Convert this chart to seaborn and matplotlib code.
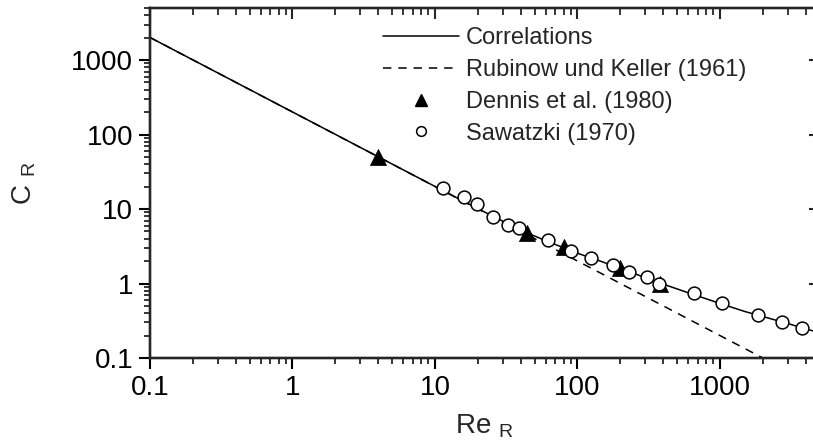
import matplotlib
matplotlib.use('Agg')
import matplotlib.pyplot as plt
import seaborn as sns
import pandas as pd
from matplotlib.lines import Line2D
from matplotlib.ticker import LogLocator, NullFormatter, FixedLocator, FixedFormatter

# ---------------- data ----------------
corr_re = [0.1, 1, 10, 20, 40, 60, 100, 150, 200, 300, 400, 600, 1000, 1500, 2000, 3000, 4000, 5000]
corr_cr = [2010, 201, 20.1, 10.1, 5.2, 3.75, 2.55, 1.95, 1.58, 1.2, 0.98, 0.75, 0.54, 0.42, 0.36, 0.29, 0.245, 0.22]

rk_re = [0.1, 2000]
rk_cr = [2010, 0.1]

dennis_re = [4.0, 44, 80, 200, 380]
dennis_cr = [50.0, 4.8, 3.1, 1.6, 1.0]

saw_re = [11.4, 16.1, 19.8, 25.4, 32.4, 39.1, 62.4, 90, 124, 177, 231, 309, 375, 657, 1028, 1858, 2710, 3740]
saw_cr = [19.0, 14.4, 11.6, 7.9, 6.1, 5.5, 3.84, 2.73, 2.22, 1.8, 1.44, 1.21, 1.0, 0.738, 0.542, 0.378, 0.301, 0.251]

xticks = [0.1, 1, 10, 100, 1000]
xticklabels = ['0.1', '1', '10', '100', '1000']
yticks = [0.1, 1, 10, 100, 1000]
yticklabels = ['0.1', '1', '10', '100', '1000']

labels = ['Correlations', 'Rubinow und Keller (1961)', 'Dennis et al. (1980)', 'Sawatzki (1970)']

# ---------------- style ----------------
sns.set_style('ticks')
plt.rcParams['font.family'] = ['Liberation Sans', 'DejaVu Sans']
plt.rcParams['mathtext.fontset'] = 'custom'
plt.rcParams['mathtext.rm'] = 'Liberation Sans'

W, H = 813, 443
fig = plt.figure(figsize=(W / 100, H / 100), dpi=100)
x0, x1 = 150, 819.6
y0, y1 = 358, 8
ax = fig.add_axes([x0 / W, (H - y0) / H, (x1 - x0) / W, (y0 - y1) / H])

XLIM = (0.1, 5000)
YLIM = (0.1, 5000)

lw = 1.1
dash = (0, (5.5, 4.5))
sns.lineplot(x=rk_re, y=rk_cr, ax=ax, color='black', lw=lw, estimator=None, sort=False,
             linestyle=dash, zorder=2)
sns.lineplot(x=corr_re, y=corr_cr, ax=ax, color='black', lw=lw, estimator=None, sort=False, zorder=3)
sns.scatterplot(x=dennis_re, y=dennis_cr, ax=ax, marker='^', color='black', s=135,
                edgecolor='black', linewidth=0.5, zorder=4)
sns.scatterplot(x=saw_re, y=saw_cr, ax=ax, marker='o', facecolor='white', s=85,
                edgecolor='black', linewidth=1.1, zorder=5)

ax.set_xscale('log')
ax.set_yscale('log')
ax.set_xlim(*XLIM)
ax.set_ylim(*YLIM)

ax.xaxis.set_major_locator(FixedLocator(xticks))
ax.xaxis.set_major_formatter(FixedFormatter(xticklabels))
ax.yaxis.set_major_locator(FixedLocator(yticks))
ax.yaxis.set_major_formatter(FixedFormatter(yticklabels))
ax.xaxis.set_minor_locator(LogLocator(base=10, subs=range(2, 10), numticks=20))
ax.yaxis.set_minor_locator(LogLocator(base=10, subs=range(2, 10), numticks=20))
ax.xaxis.set_minor_formatter(NullFormatter())
ax.yaxis.set_minor_formatter(NullFormatter())

for s in ax.spines.values():
    s.set_linewidth(1.6)
    s.set_color('black')

ax.tick_params(which='major', direction='out', length=8, width=1.5, labelsize=20, colors='black', pad=4)
ax.tick_params(which='minor', direction='out', length=4, width=1.3)

# inward ticks on top and right via twin axes
axt = ax.twiny()
axt.set_xscale('log')
axt.set_xlim(*XLIM)
axt.xaxis.set_major_locator(FixedLocator(xticks))
axt.xaxis.set_minor_locator(LogLocator(base=10, subs=range(2, 10), numticks=20))
axt.tick_params(which='major', direction='in', length=8, width=1.5, labeltop=False)
axt.tick_params(which='minor', direction='in', length=5, width=1.3)
axt.xaxis.set_major_formatter(NullFormatter())
axt.xaxis.set_minor_formatter(NullFormatter())

axr = ax.twinx()
axr.set_yscale('log')
axr.set_ylim(*YLIM)
axr.yaxis.set_major_locator(FixedLocator(yticks))
axr.yaxis.set_minor_locator(LogLocator(base=10, subs=range(2, 10), numticks=20))
axr.tick_params(which='major', direction='in', length=8, width=1.5, labelright=False)
axr.tick_params(which='minor', direction='in', length=5, width=1.3)
axr.yaxis.set_major_formatter(NullFormatter())
axr.yaxis.set_minor_formatter(NullFormatter())
for a in (axt, axr):
    for s in a.spines.values():
        s.set_linewidth(1.6)

ax.set_xlabel(r'Re $_\mathregular{R}$', fontsize=20, labelpad=8)
ax.set_ylabel(r'C $_\mathregular{R}$', fontsize=20, labelpad=24)

handles = [
    Line2D([], [], color='black', lw=lw),
    Line2D([], [], color='black', lw=lw, linestyle=dash),
    Line2D([], [], color='black', marker='^', linestyle='none', markersize=8),
    Line2D([], [], color='black', marker='o', markerfacecolor='white', linestyle='none',
           markersize=7, markeredgewidth=1.1),
]
fig.legend(handles, labels, loc='upper left', bbox_to_anchor=(383 / W, 1 - 27 / H),
           frameon=False, fontsize=17, handlelength=3.2, handletextpad=0.3,
           labelspacing=0.42, borderpad=0, borderaxespad=0)

fig.savefig('out.png', dpi=100)
